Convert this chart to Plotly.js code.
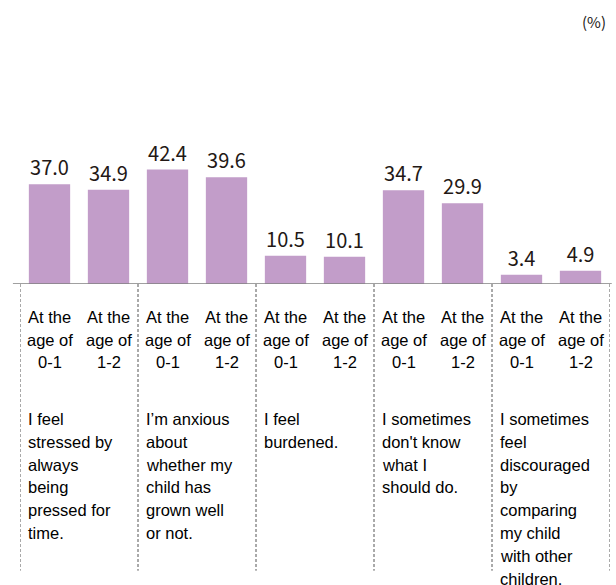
<!DOCTYPE html>
<html>
<head>
<meta charset="utf-8">
<script src="https://cdn.plot.ly/plotly-3.0.1.min.js"></script>
<style>html,body{margin:0;padding:0;background:#fff;}#chart{width:616px;height:585px;}</style>
</head>
<body>
<div id="chart"></div>
<script>
// ---- data ----
const ageLines = [["At the", "age of", "0-1"], ["At the", "age of", "1-2"]];
const statements = [
  ["I feel", "stressed by", "always", "being", "pressed for", "time."],
  ["I\u2019m anxious", "about", "whether my", "child has", "grown well", "or not."],
  ["I feel", "burdened."],
  ["I sometimes", "don't know", "what I", "should do."],
  ["I sometimes", "feel", "discouraged", "by", "comparing", "my child", "with other", "children."]
];
const values = [37.0, 34.9, 42.4, 39.6, 10.5, 10.1, 34.7, 29.9, 3.4, 4.9];
const unitLabel = "(%)";

// ---- build ----
const xIdx = values.map((v, i) => i);
const nAges = ageLines.length;

const trace = {
  type: "bar",
  x: xIdx,
  y: values,
  width: 0.7,
  marker: {color: "rgb(194,157,201)", line: {width: 0}},
  text: values.map(v => v.toFixed(1)),
  textposition: "outside",
  textfont: {family: "Noto Sans CJK JP, Noto Sans, sans-serif", size: 20, color: "#231815"},
  cliponaxis: false,
  hoverinfo: "none"
};

const annotations = [];
const textFont = {family: "Liberation Sans, Arial, sans-serif", size: 16.5, color: "#000"};
// age labels under each bar
xIdx.forEach(i => {
  const lines = ageLines[i % nAges];
  lines.forEach((ln, k) => {
    annotations.push({
      xref: "x", yref: "paper", x: i, y: 0, yshift: -(33 + 22.5 * k),
      text: ln, showarrow: false, xanchor: "center", yanchor: "middle",
      font: textFont
    });
  });
});
// statements under each group
statements.forEach((lines, g) => {
  lines.forEach((ln, k) => {
    annotations.push({
      xref: "x", yref: "paper", x: g * nAges - 0.5, xshift: 6, y: 0, yshift: -(135 + 22.8 * k),
      text: ln, showarrow: false, xanchor: "left", yanchor: "middle",
      font: textFont
    });
  });
});
// unit label
annotations.push({
  xref: "paper", yref: "paper", x: 1, y: 1, xshift: -2, yshift: 39,
  text: unitLabel, showarrow: false, xanchor: "right", yanchor: "middle",
  font: {family: "Noto Sans CJK JP, sans-serif", size: 15, color: "#231815"}
});

const shapes = [];
// dashed group dividers
for (let g = 0; g <= statements.length; g++) {
  shapes.push({
    type: "line", xref: "x", yref: "paper",
    x0: g * nAges - 0.5, x1: g * nAges - 0.5, y0: 0, y1: -1.28,
    line: {color: "#555", width: 1, dash: "3px,2px"}
  });
}
// baseline
shapes.push({
  type: "line", xref: "paper", yref: "y",
  x0: -0.012, x1: 1.003, y0: 0, y1: 0,
  line: {color: "#808080", width: 1.5}
});

const layout = {
  width: 616, height: 585,
  margin: {l: 20, r: 6, t: 60, b: 301},
  paper_bgcolor: "#fff", plot_bgcolor: "#fff",
  showlegend: false,
  xaxis: {range: [-0.5, values.length - 0.5], showticklabels: false, showgrid: false, zeroline: false, ticks: "", fixedrange: true},
  yaxis: {range: [0, 83], showticklabels: false, showgrid: false, zeroline: false, ticks: "", fixedrange: true},
  annotations: annotations,
  shapes: shapes,
  bargap: 0.3
};

Plotly.newPlot("chart", [trace], layout, {staticPlot: true, displayModeBar: false});
</script>
</body>
</html>
